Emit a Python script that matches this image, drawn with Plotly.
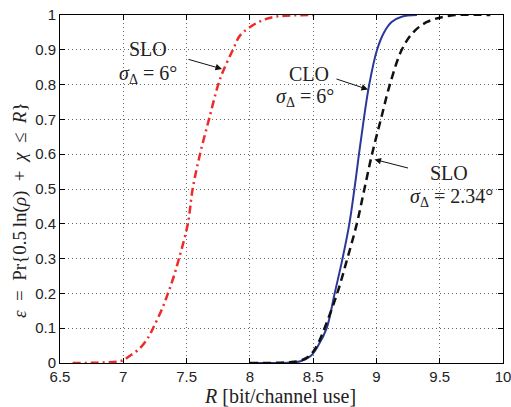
import plotly.graph_objects as go

# SLO, sigma = 6 deg (red dash-dot)
slo6_x = [6.6, 6.8, 6.95, 7.0, 7.05, 7.13, 7.2, 7.235, 7.3, 7.353, 7.4, 7.44, 7.51, 7.548,
          7.606, 7.677, 7.75, 7.79, 7.866, 7.92, 8.0, 8.1, 8.2, 8.35, 8.53]
slo6_y = [0.0, 0.001, 0.004, 0.008, 0.02, 0.042, 0.075, 0.1, 0.15, 0.2, 0.25, 0.3, 0.4, 0.5,
          0.6, 0.7, 0.8, 0.84, 0.9, 0.94, 0.965, 0.985, 0.995, 0.999, 1.0]

# CLO, sigma = 6 deg (blue solid)
clo6_x = [8.0, 8.3, 8.4, 8.48, 8.54, 8.607, 8.67, 8.732, 8.786, 8.826, 8.862, 8.9, 8.943,
          9.005, 9.06, 9.12, 9.2, 9.32]
clo6_y = [0.0, 0.001, 0.005, 0.02, 0.05, 0.1, 0.2, 0.3, 0.4, 0.5, 0.6, 0.7, 0.8,
          0.9, 0.95, 0.98, 0.995, 1.0]

# SLO, sigma = 2.34 deg (black dashed)
slo234_x = [8.0, 8.3, 8.4, 8.47, 8.53, 8.59, 8.69, 8.77, 8.845, 8.905, 8.965, 9.035, 9.106,
            9.2, 9.29, 9.4, 9.58, 9.9]
slo234_y = [0.0, 0.002, 0.007, 0.02, 0.05, 0.1, 0.2, 0.3, 0.4, 0.5, 0.6, 0.7, 0.8,
            0.9, 0.95, 0.98, 0.998, 1.0]

x_ticks = [6.5, 7, 7.5, 8, 8.5, 9, 9.5, 10]
x_tick_labels = ["6.5", "7", "7.5", "8", "8.5", "9", "9.5", "10"]
y_ticks = [0, 0.1, 0.2, 0.3, 0.4, 0.5, 0.6, 0.7, 0.8, 0.9, 1]
y_tick_labels = ["0", "0.1", "0.2", "0.3", "0.4", "0.5", "0.6", "0.7", "0.8", "0.9", "1"]

fig = go.Figure()
fig.add_trace(go.Scatter(x=slo6_x, y=slo6_y, mode="lines",
                         line=dict(color="#ee2a2a", width=2.5, dash="8px,4px,2px,4px", shape="spline")))
fig.add_trace(go.Scatter(x=clo6_x, y=clo6_y, mode="lines",
                         line=dict(color="#2b3899", width=2, shape="spline")))
fig.add_trace(go.Scatter(x=slo234_x, y=slo234_y, mode="lines",
                         line=dict(color="#111111", width=2.5, dash="8px,5px", shape="spline")))

serif = "Liberation Serif"
afont = dict(family=serif, size=20, color="#222")
arrow = dict(text="", showarrow=True, arrowhead=2, arrowsize=1.3, arrowwidth=1, arrowcolor="#111")

ylabel = ("<i>ε</i>\u2002=\u2002Pr{0.5\u2009ln(<i>ρ</i>)\u2002+\u2002<i>χ</i>"
          "\u2002≤\u2002<i>R</i>}")

anns = [
    dict(x=7.195, y=0.901, text="SLO", showarrow=False, font=afont),
    dict(x=7.195, y=0.83, text="<i>σ</i><sub>Δ</sub> = 6°", showarrow=False, font=afont),
    dict(x=7.78, y=0.845, ax=-35, ay=-10, **arrow),
    dict(x=8.467, y=0.830, text="CLO", showarrow=False, font=afont),
    dict(x=8.436, y=0.764, text="<i>σ</i><sub>Δ</sub> = 6°", showarrow=False, font=afont),
    dict(x=8.933, y=0.786, ax=-33, ay=-11, **arrow),
    dict(x=9.573, y=0.545, text="SLO", showarrow=False, font=afont),
    dict(x=9.59, y=0.476, text="<i>σ</i><sub>Δ</sub> = 2.34°", showarrow=False, font=afont),
    dict(x=8.985, y=0.585, ax=35, ay=9, **arrow),
    # axis titles
    dict(xref="paper", yref="paper", x=0.497, y=-0.094, xanchor="center", yanchor="middle",
         text="<i>R</i> [bit/channel use]", showarrow=False,
         font=dict(family=serif, size=20, color="#222")),
    dict(xref="paper", yref="paper", x=-0.09, y=0.44, xanchor="center", yanchor="middle",
         textangle=-90, text=ylabel,
         showarrow=False, font=dict(family=serif, size=19, color="#222")),
]

axis_common = dict(showgrid=True, gridcolor="#666", griddash="1px,3px", gridwidth=1,
                   showline=True, mirror="ticks", linecolor="black", linewidth=1,
                   ticks="inside", ticklen=5, tickcolor="black", zeroline=False,
                   automargin=False, ticklabeloverflow="allow",
                   tickfont=dict(family="Liberation Sans", size=15, color="#222"))

fig.update_layout(
    width=511, height=407,
    margin=dict(l=60, r=8, t=15, b=44),
    paper_bgcolor="white", plot_bgcolor="white",
    showlegend=False,
    annotations=anns,
    xaxis=dict(range=[6.5, 10], tickvals=x_ticks, ticktext=x_tick_labels, **axis_common),
    yaxis=dict(range=[0, 1], tickvals=y_ticks, ticktext=y_tick_labels, **axis_common),
)

fig.write_html("out.html", config={"displayModeBar": False},
               post_script="document.body.style.margin='0';document.body.style.overflow='hidden';")
